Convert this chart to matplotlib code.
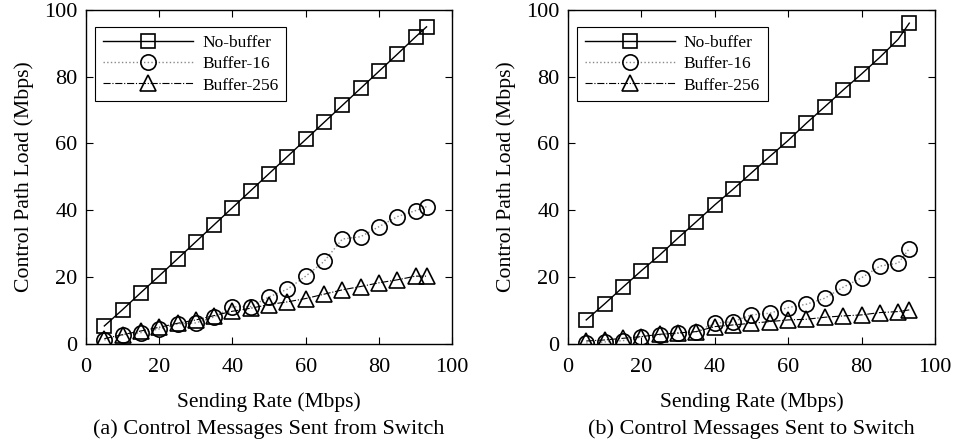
import numpy as np
import matplotlib
matplotlib.use("Agg")
import matplotlib.pyplot as plt

plt.rcParams["font.family"] = ["Liberation Serif", "DejaVu Serif"]

# ==========================================================
# DATA
# ==========================================================
rates = [5, 10, 15, 20, 25, 30, 35, 40, 45, 50, 55, 60, 65, 70, 75, 80, 85, 90, 93]

from_nobuf = [5.4, 10.3, 15.4, 20.4, 25.5, 30.6, 35.7, 40.8, 45.9, 51.0,
              56.1, 61.2, 66.3, 71.4, 76.5, 81.6, 86.7, 91.9, 94.9]
from_buf16 = [1.2, 2.7, 3.4, 4.5, 6.0, 6.3, 8.1, 11.1, 11.2, 14.1,
              16.4, 20.3, 24.7, 31.4, 32.1, 35.1, 38.1, 39.9, 41.1]
from_buf256 = [1.6, 2.8, 3.9, 5.0, 6.2, 7.2, 8.5, 9.8, 10.7, 11.8,
               12.6, 13.6, 14.9, 16.2, 17.2, 18.3, 19.2, 20.3, 20.3]

to_nobuf = [7.2, 12.0, 17.0, 21.9, 26.6, 31.7, 36.6, 41.6, 46.3, 51.2,
            56.1, 60.9, 66.1, 71.0, 76.0, 80.8, 85.8, 91.2, 96.0]
to_buf16 = [0.3, 0.6, 1.0, 2.1, 2.7, 3.2, 3.7, 6.2, 6.7, 8.7,
            9.2, 10.9, 11.9, 13.7, 17.0, 19.8, 23.3, 24.2, 28.5]
to_buf256 = [0.9, 1.2, 1.7, 2.2, 2.9, 3.3, 3.7, 5.2, 5.7, 6.2,
             6.7, 7.2, 7.4, 8.0, 8.4, 8.7, 9.4, 9.7, 10.2]

series_names = ["No-buffer", "Buffer-16", "Buffer-256"]
captions = ["(a) Control Messages Sent from Switch",
            "(b) Control Messages Sent to Switch"]
ticks = [0, 20, 40, 60, 80, 100]


# ==========================================================
# PLOT
# ==========================================================
def draw_panel(ax, nobuf, buf16, buf256, caption):
    ax.plot(rates, nobuf, color="black", linestyle="-", linewidth=1.0,
            marker="s", markersize=9.5, markerfacecolor="none",
            markeredgecolor="black", markeredgewidth=1.2, label=series_names[0])
    ax.plot(rates, buf16, color="#888888", linestyle=":", linewidth=1.0,
            marker="o", markersize=11, markerfacecolor="none",
            markeredgecolor="black", markeredgewidth=1.2, label=series_names[1])
    ax.plot(rates, buf256, color="black", linestyle="-.", linewidth=0.8,
            marker="^", markersize=11, markerfacecolor="none",
            markeredgecolor="black", markeredgewidth=1.2, label=series_names[2])

    ax.set_xlim(0, 100)
    ax.set_ylim(0, 100)
    ax.set_xticks(ticks)
    ax.set_yticks(ticks)
    ax.tick_params(direction="in", top=True, right=True, length=5,
                   width=0.8, labelsize=16)
    ax.tick_params(axis="x", pad=10)
    ax.tick_params(axis="y", pad=6)
    for sp in ax.spines.values():
        sp.set_linewidth(1.0)

    ax.set_xlabel("Sending Rate (Mbps)", fontsize=15.5, labelpad=11)
    ax.set_ylabel("Control Path Load (Mbps)", fontsize=15.7, labelpad=7.5)
    ax.text(0.5, -0.255, caption, transform=ax.transAxes, ha="center",
            va="center", fontsize=16)

    leg = ax.legend(loc="upper left", bbox_to_anchor=(0.025, 0.949),
                    borderaxespad=0, fontsize=12.5, handlelength=5.2,
                    handletextpad=0.5, labelspacing=0.3, fancybox=False,
                    edgecolor="black", framealpha=1, borderpad=0.45)
    leg.get_frame().set_linewidth(0.8)


fig = plt.figure(figsize=(9.56, 4.45), dpi=100)
ax1 = fig.add_axes([0.090, 0.227, 0.383, 0.751])
ax2 = fig.add_axes([0.594, 0.227, 0.384, 0.751])

draw_panel(ax1, from_nobuf, from_buf16, from_buf256, captions[0])
draw_panel(ax2, to_nobuf, to_buf16, to_buf256, captions[1])

fig.savefig("out.png", dpi=100)
